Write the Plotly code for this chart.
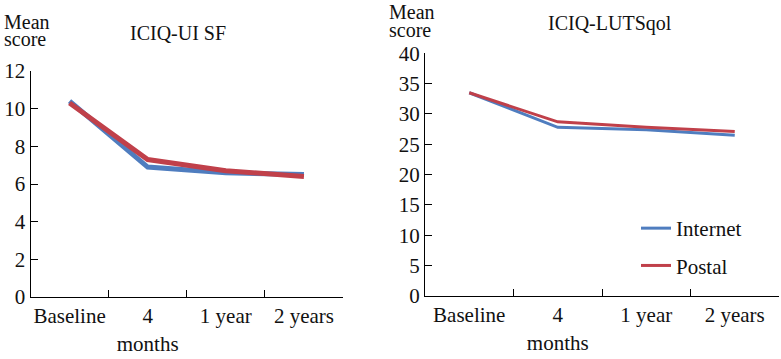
import plotly.graph_objects as go

categories = ["Baseline", "4<br>months", "1 year", "2 years"]
series_names = ["Internet", "Postal"]
uisf_internet = [10.4, 6.9, 6.6, 6.5]
uisf_postal = [10.3, 7.3, 6.7, 6.4]
luts_internet = [33.5, 27.8, 27.4, 26.5]
luts_postal = [33.5, 28.7, 27.8, 27.1]
uisf_ticks = [0, 2, 4, 6, 8, 10, 12]
luts_ticks = [0, 5, 10, 15, 20, 25, 30, 35, 40]

BLUE = "#4f7dbf"
RED = "#c0404a"
FONT = "Liberation Serif"
W, H = 781, 359

fig = go.Figure()
fig.add_trace(go.Scatter(x=categories, y=uisf_internet, mode="lines", name=series_names[0],
                         line=dict(color=BLUE, width=5), xaxis="x", yaxis="y", showlegend=False))
fig.add_trace(go.Scatter(x=categories, y=uisf_postal, mode="lines", name=series_names[1],
                         line=dict(color=RED, width=5), xaxis="x", yaxis="y", showlegend=False))
fig.add_trace(go.Scatter(x=categories, y=luts_internet, mode="lines", name=series_names[0],
                         line=dict(color=BLUE, width=3), xaxis="x2", yaxis="y2", legendgroup="a"))
fig.add_trace(go.Scatter(x=categories, y=luts_postal, mode="lines", name=series_names[1],
                         line=dict(color=RED, width=3), xaxis="x2", yaxis="y2", legendgroup="b"))

def px_x(p):
    return p / W

def px_y(p):
    return (H - p) / H

xcommon = dict(type="category", range=[-0.5, 3.5], tickson="boundaries", ticks="inside",
               ticklen=7, tickcolor="#000", showline=True, linecolor="#000", linewidth=1.2,
               showgrid=False, zeroline=False, automargin=False, tickangle=0,
               tickfont=dict(family=FONT, size=21, color="#111"))
ycommon = dict(ticks="inside", ticklen=7, tickcolor="#000", showline=True, linecolor="#000",
               linewidth=1.2, showgrid=False, zeroline=False, automargin=False,
               tickfont=dict(family=FONT, size=21, color="#111"))

ann_font = dict(family=FONT, size=20, color="#111")
anns = [
    dict(text="ICIQ-UI SF", x=px_x(178), y=px_y(33), xanchor="center"),
    dict(text="ICIQ-LUTSqol", x=px_x(610), y=px_y(23), xanchor="center"),
    dict(text="Mean", x=px_x(2), y=px_y(22), xanchor="left"),
    dict(text="score", x=px_x(2), y=px_y(39), xanchor="left"),
    dict(text="Mean", x=px_x(387), y=px_y(12), xanchor="left"),
    dict(text="score", x=px_x(387), y=px_y(30), xanchor="left"),
]
for a in anns:
    a.update(xref="paper", yref="paper", yanchor="middle", showarrow=False, font=ann_font)

fig.update_layout(
    width=W, height=H,
    margin=dict(l=0, r=0, t=0, b=0, autoexpand=False),
    paper_bgcolor="white", plot_bgcolor="white",
    showlegend=True,
    legend=dict(x=px_x(636), y=px_y(208), xanchor="left", yanchor="top",
                font=dict(family=FONT, size=21, color="#111"), tracegroupgap=7,
                bgcolor="rgba(0,0,0,0)"),
    xaxis=dict(domain=[px_x(30.5), px_x(343)], anchor="y", **xcommon),
    yaxis=dict(domain=[px_y(297), px_y(71)], anchor="x", range=[0, 12],
               tickvals=uisf_ticks, **ycommon),
    xaxis2=dict(domain=[px_x(425), px_x(779)], anchor="y2", **xcommon),
    yaxis2=dict(domain=[px_y(296), px_y(53.3)], anchor="x2", range=[0, 40],
                tickvals=luts_ticks, **ycommon),
    annotations=anns,
)

fig.write_html("out.html", config={"displayModeBar": False},
               post_script="document.body.style.margin='0';document.body.style.overflow='hidden';")
